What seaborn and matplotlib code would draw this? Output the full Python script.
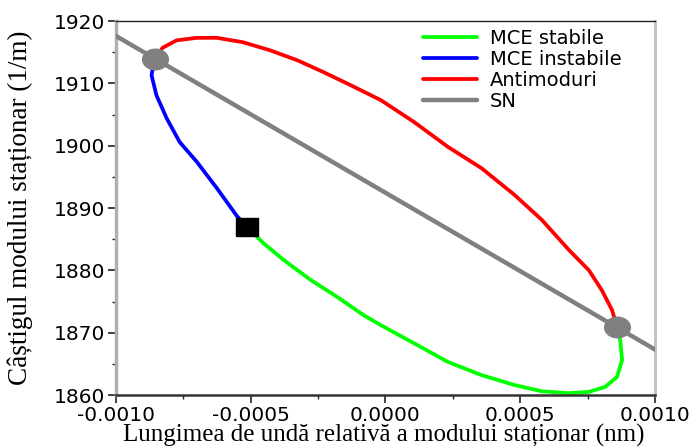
import matplotlib
matplotlib.use("Agg")
import matplotlib.pyplot as plt
from matplotlib.ticker import MultipleLocator, FormatStrFormatter
from matplotlib.path import Path
from matplotlib.transforms import Affine2D
import seaborn as sns
import pandas as pd

# --- data (x in nm, y in 1/m) ---
red_x = [-0.000857, -0.000827, -0.000775, -0.000700, -0.000626, -0.000529, -0.000428,
         -0.000327, -0.000230, -0.000129, -0.000017, 0.000106, 0.000232, 0.000356,
         0.000479, 0.000580, 0.000680, 0.000755, 0.000803, 0.000841, 0.000859]
red_y = [1913.9, 1915.7, 1916.9, 1917.3, 1917.3, 1916.6, 1915.3,
         1913.7, 1911.8, 1909.7, 1907.3, 1903.8, 1899.8, 1896.4,
         1892.1, 1888.1, 1883.3, 1880.0, 1876.8, 1873.6, 1870.9]

green_x = [0.000859, 0.000871, 0.000878, 0.000859, 0.000815, 0.000755, 0.000680,
           0.000580, 0.000479, 0.000356, 0.000232, 0.000106, -0.000017, -0.000081,
           -0.000178, -0.000279, -0.000379, -0.000454, -0.000514]
green_y = [1870.9, 1868.8, 1865.6, 1862.9, 1861.3, 1860.5, 1860.3,
           1860.6, 1861.6, 1863.2, 1865.3, 1868.3, 1871.2, 1872.8,
           1875.7, 1878.5, 1881.7, 1884.4, 1887.0]

blue_x = [-0.000514, -0.000551, -0.000626, -0.000700, -0.000764, -0.000812,
          -0.000850, -0.000868, -0.000857]
blue_y = [1887.0, 1888.7, 1893.2, 1897.4, 1900.6, 1904.4,
          1908.1, 1911.3, 1913.9]

sn_x = [-0.0010, 0.0010]
sn_y = [1917.6, 1867.3]

fold_x = [-0.000857, 0.000859]
fold_y = [1913.9, 1870.9]
switch_x = [-0.000514]
switch_y = [1887.0]

sns.set_style("white")
plt.rcParams['font.family'] = ['DejaVu Sans']
plt.rcParams['text.color'] = 'black'
plt.rcParams['axes.labelcolor'] = 'black'
plt.rcParams['xtick.labelcolor'] = 'black'
plt.rcParams['ytick.labelcolor'] = 'black'

fig = plt.figure(figsize=(6.97, 4.47), dpi=100)
ax = fig.add_axes([0.1664, 0.1163, 0.7733, 0.8367])

segs = [
    (green_x, green_y, '#00ff00', 'MCE stabile'),
    (blue_x, blue_y, '#0000ff', 'MCE instabile'),
    (red_x, red_y, '#ff0000', 'Antimoduri'),
]
for xs, ys, col, name in segs:
    df = pd.DataFrame({'x': xs, 'y': ys})
    sns.lineplot(data=df, x='x', y='y', sort=False, estimator=None, color=col,
                 lw=2.7, label=name, ax=ax, zorder=2)

sns.lineplot(x=sn_x, y=sn_y, color='#808080', lw=3.2, label='SN', ax=ax, zorder=3)

# the reference is a bit stretched sideways, so the markers are too
wide_circle = Path.unit_circle().transformed(Affine2D().scale(1.25, 1.0))
ax.plot(fold_x, fold_y, marker=wide_circle, ls='none', ms=18.5, color='#808080', zorder=4)
rect = [(-1.25, -1), (1.25, -1), (1.25, 1), (-1.25, 1), (-1.25, -1)]
ax.plot(switch_x, switch_y, marker=rect, ls='none', ms=16.5, color='black', zorder=5)

ax.set_xlim(-0.001, 0.001)
ax.set_ylim(1860, 1920)
ax.xaxis.set_major_locator(MultipleLocator(0.0005))
ax.xaxis.set_minor_locator(MultipleLocator(0.00025))
ax.xaxis.set_major_formatter(FormatStrFormatter('%.4f'))
ax.yaxis.set_major_locator(MultipleLocator(10))
ax.yaxis.set_minor_locator(MultipleLocator(5))
ax.tick_params(axis='both', which='major', direction='out', length=6, width=1.2,
               labelsize=14.5, bottom=True, left=True, color='#222222', pad=2)
ax.tick_params(axis='both', which='minor', direction='out', length=3, width=1,
               bottom=True, left=True, color='#222222')

ax.spines['left'].set_color('#b0b0b0')
ax.spines['left'].set_linewidth(2.5)
ax.spines['right'].set_color('#c0c0c0')
ax.spines['right'].set_linewidth(2)
ax.spines['bottom'].set_color('#333333')
ax.spines['bottom'].set_linewidth(1.8)
ax.spines['top'].set_color('#222222')
ax.spines['top'].set_linewidth(1)

ax.set_xlabel('Lungimea de undă relativă a modului staționar (nm)',
              fontfamily='Liberation Serif', fontsize=18)
ax.xaxis.set_label_coords(0.497, -0.078)
ax.set_ylabel('Câștigul modului staționar (1/m)',
              fontfamily='Liberation Serif', fontsize=19.5)
ax.yaxis.set_label_coords(-0.154, 0.5)

ax.legend(loc='upper left', bbox_to_anchor=(0.555, 1.0), frameon=False,
          fontsize=14, handlelength=2.8, labelspacing=0.1, borderaxespad=0.0,
          handletextpad=0.65)

fig.savefig('out.png', dpi=100)
